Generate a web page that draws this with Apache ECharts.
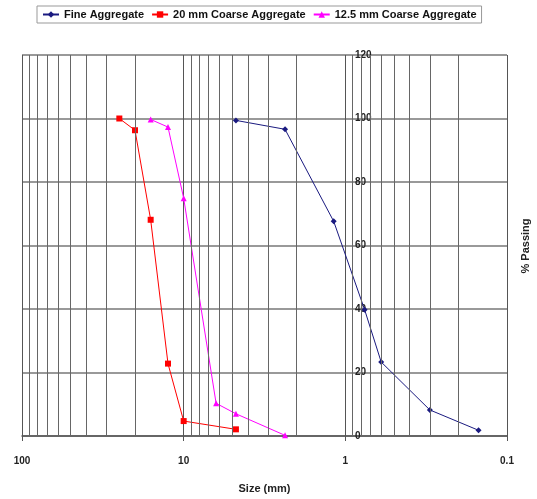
<!DOCTYPE html>
<html>
<head>
<meta charset="utf-8">
<script src="https://cdn.jsdelivr.net/npm/echarts@6/dist/echarts.min.js"></script>
<style>
  html, body { margin: 0; padding: 0; background: #fff; }
  #chart { width: 537px; height: 499px; }
</style>
</head>
<body>
<div id="chart"></div>
<script>
// sieve sizes (mm) and % passing
var fineSize = [4.75, 2.36, 1.18, 0.76, 0.6, 0.3, 0.15];
var finePass = [99.4, 96.6, 67.6, 39.8, 23.3, 8.2, 1.8];

var coarse20Size = [25, 20, 16, 12.5, 10, 4.75];
var coarse20Pass = [100, 96.3, 68.1, 22.8, 4.7, 2.1];

var coarse125Size = [16, 12.5, 10, 6.3, 4.75, 2.36];
var coarse125Pass = [99.7, 97.3, 74.9, 10.3, 7, 0.2];

// minor log grid lines
var minorLines = [90, 80, 70, 60, 50, 40, 30, 20, 9, 8, 7, 6, 5, 4, 3, 2, 0.9, 0.8, 0.7, 0.6, 0.5, 0.4, 0.3, 0.2];

function pairs(xs, ys) {
    var out = [];
    for (var i = 0; i < xs.length; i++) out.push([xs[i], ys[i]]);
    return out;
}

var chart = echarts.init(document.getElementById('chart'));
var labelFont = { fontFamily: 'Liberation Sans', fontWeight: 'bold', fontSize: 10, color: '#222' };

chart.setOption({
    animation: false,
    backgroundColor: '#fff',
    legend: {
        left: 37, top: 6,
        padding: [3, 5],
        itemGap: 7,
        itemWidth: 16, itemHeight: 8,
        borderColor: '#999', borderWidth: 1,
        textStyle: { fontFamily: 'Liberation Sans', fontWeight: 'bold', fontSize: 11, color: '#111' },
        data: ['Fine Aggregate', '20 mm Coarse Aggregate', '12.5 mm Coarse Aggregate']
    },
    grid: { left: 22, right: 30, top: 55, bottom: 60 },
    xAxis: {
        type: 'log',
        logBase: 10,
        min: 0.1, max: 100,
        inverse: true,
        name: 'Size (mm)',
        nameLocation: 'middle',
        nameGap: 47,
        nameTextStyle: { fontFamily: 'Liberation Sans', fontWeight: 'bold', fontSize: 11, color: '#222' },
        axisLine: { lineStyle: { color: '#555', width: 1.5 } },
        axisTick: { show: true, length: 5, lineStyle: { color: '#555' } },
        axisLabel: Object.assign({ margin: 20, formatter: function (v) { return String(v); } }, labelFont),
        splitLine: { show: true, lineStyle: { color: '#555', width: 1 } }
    },
    yAxis: {
        type: 'value',
        min: 0, max: 120, interval: 20,
        position: 'left',
        offset: -331,
        axisLine: { show: false },
        axisTick: { show: false },
        axisLabel: Object.assign({ inside: true, margin: 2 }, labelFont),
        splitLine: { show: true, lineStyle: { color: '#999', width: 2 } }
    },
    graphic: [{
        type: 'text',
        x: 526, y: 246,
        rotation: Math.PI / 2,
        style: { text: '% Passing', font: 'bold 11px "Liberation Sans"', fill: '#222', align: 'center', verticalAlign: 'middle' }
    }],
    series: [
        {
            name: 'Fine Aggregate',
            type: 'line',
            data: pairs(fineSize, finePass),
            symbol: 'diamond', symbolSize: 6,
            itemStyle: { color: '#1a1a80' },
            lineStyle: { color: '#1a1a80', width: 1 },
            markLine: {
                silent: true,
                symbol: 'none',
                label: { show: false },
                lineStyle: { color: '#666', width: 1, type: 'solid' },
                data: minorLines.map(function (v) { return { xAxis: v }; })
            },
            z: 3
        },
        {
            name: '20 mm Coarse Aggregate',
            type: 'line',
            data: pairs(coarse20Size, coarse20Pass),
            symbol: 'rect', symbolSize: 6,
            itemStyle: { color: '#ff0000' },
            lineStyle: { color: '#ff0000', width: 1 },
            z: 4
        },
        {
            name: '12.5 mm Coarse Aggregate',
            type: 'line',
            data: pairs(coarse125Size, coarse125Pass),
            symbol: 'triangle', symbolSize: 6,
            itemStyle: { color: '#ff00ff' },
            lineStyle: { color: '#ff00ff', width: 1 },
            z: 4
        }
    ]
});
</script>
</body>
</html>
